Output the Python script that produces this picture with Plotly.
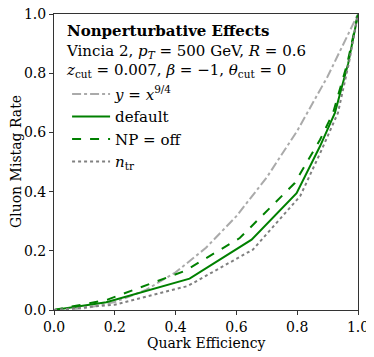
import plotly.graph_objects as go

# reference curve y = x^(9/4), values listed
ref_x = [0.0, 0.1, 0.2, 0.3, 0.4, 0.5, 0.6, 0.7, 0.8, 0.9, 1.0]
ref_y = [0.0, 0.0056, 0.0268, 0.0666, 0.1272, 0.2102, 0.3169, 0.4482, 0.6053, 0.7889, 1.0]

# default
def_x = [0.0, 0.172, 0.446, 0.65, 0.798, 0.875, 0.924, 0.968, 1.0]
def_y = [0.0, 0.026, 0.106, 0.2375, 0.395, 0.553, 0.666, 0.834, 1.0]

# NP = off
np_x = [0.0, 0.176, 0.43, 0.611, 0.792, 0.875, 0.918, 0.965, 1.0]
np_y = [0.0, 0.035, 0.132, 0.243, 0.429, 0.575, 0.666, 0.834, 1.0]

# n_tr
ntr_x = [0.0, 0.2, 0.44, 0.654, 0.81, 0.88, 0.934, 0.97, 1.0]
ntr_y = [0.0, 0.018, 0.081, 0.204, 0.385, 0.54, 0.666, 0.834, 1.0]

ticks = [0.0, 0.2, 0.4, 0.6, 0.8, 1.0]
tick_text = ["0.0", "0.2", "0.4", "0.6", "0.8", "1.0"]

font = "DejaVu Serif"

fig = go.Figure()
fig.add_trace(go.Scatter(x=ref_x, y=ref_y, mode="lines", name="<i>y</i> = <i>x</i><sup>9/4</sup>",
                         line=dict(color="#aaaaaa", width=2, dash="dashdot")))
fig.add_trace(go.Scatter(x=def_x, y=def_y, mode="lines", name="default",
                         line=dict(color="green", width=2)))
fig.add_trace(go.Scatter(x=np_x, y=np_y, mode="lines", name="NP = off",
                         line=dict(color="green", width=2, dash="dash")))
fig.add_trace(go.Scatter(x=ntr_x, y=ntr_y, mode="lines", name="<i>n</i><sub>tr</sub>",
                         line=dict(color="gray", width=2, dash="dot")))

axis = dict(range=[0, 1], tickvals=ticks, ticktext=tick_text, ticks="outside", ticklen=4,
            tickcolor="#333", showline=True, linecolor="#333", linewidth=1, mirror=True,
            showgrid=False, zeroline=False, automargin=False, ticklabeloverflow="allow",
            tickfont=dict(size=14, color="black"))

# page body adds 8px offset, so the figure is sized to the remaining view
fig.update_layout(
    width=366, height=349,
    margin=dict(l=46, r=16, t=6, b=47),
    plot_bgcolor="white", paper_bgcolor="white",
    font=dict(family=font, size=14, color="black"),
    xaxis=axis,
    yaxis=axis,
    showlegend=True,
    legend=dict(x=0.043, y=0.785, xanchor="left", yanchor="top", bgcolor="rgba(0,0,0,0)",
                font=dict(size=15), tracegroupgap=0, itemwidth=38),
    annotations=[
        dict(x=0.033, y=0.98, xref="paper", yref="paper", xanchor="left", yanchor="top",
             align="left", showarrow=False, font=dict(size=15),
             text="<b>Nonperturbative Effects</b><br>Vincia 2, <i>p</i><sub><i>T</i></sub> = 500 GeV, <i>R</i> = 0.6"
                  "<br><i>z</i><sub>cut</sub> = 0.007, <i>β</i> = −1, <i>θ</i><sub>cut</sub> = 0"),
        dict(x=0.5, y=-0.111, xref="paper", yref="paper", xanchor="center", yanchor="middle",
             showarrow=False, font=dict(size=14), text="Quark Efficiency"),
        dict(x=-0.125, y=0.5, xref="paper", yref="paper", xanchor="center", yanchor="middle",
             showarrow=False, font=dict(size=14), text="Gluon Mistag Rate", textangle=-90),
    ],
)

fig.write_html("out.html")
